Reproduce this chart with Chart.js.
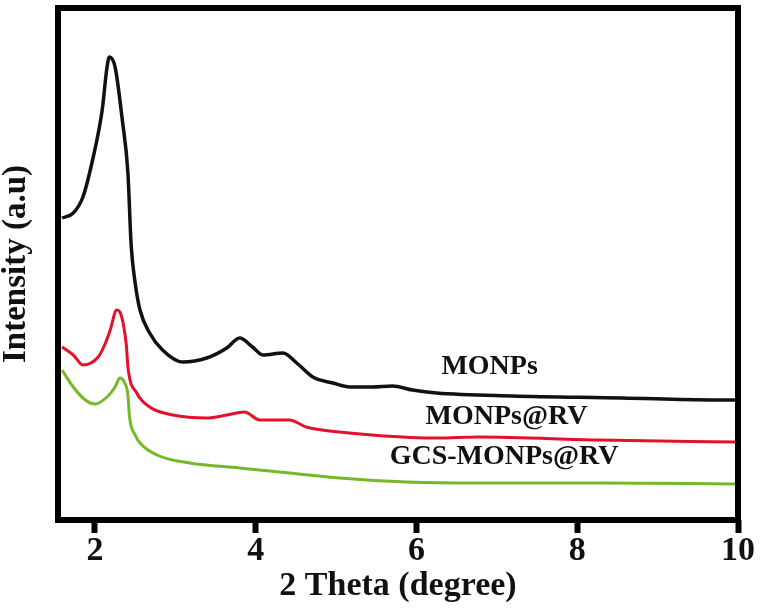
<!DOCTYPE html>
<html>
<head>
<meta charset="utf-8">
<script src="https://cdn.jsdelivr.net/npm/chart.js@4/dist/chart.umd.min.js"></script>
<style>
  html, body { margin: 0; padding: 0; background: #fff; }
  #wrap { width: 760px; height: 610px; }
</style>
</head>
<body>
<div id="wrap"><canvas id="xrd" width="760" height="610"></canvas></div>
<script>
// 2 theta positions (degree) and intensities (a.u.)
const thetaMONPs = [1.59, 1.73, 1.85, 1.97, 2.09, 2.15, 2.18, 2.25, 2.34, 2.41, 2.45, 2.50, 2.56, 2.68, 2.84, 3.09, 3.39, 3.64, 3.80, 3.96, 4.09, 4.34, 4.51, 4.71, 4.96, 5.17, 5.45, 5.70, 5.95, 6.25, 7.19, 8.56, 9.68, 9.97];
const intMONPs   = [302, 307, 323, 360, 410, 453, 463, 453, 400, 347, 275, 237, 210, 187, 170, 158, 162, 172, 182, 173, 165, 167, 157, 143, 137, 133, 133, 134, 130, 127, 124, 122, 120, 120];

const thetaRV = [1.59, 1.73, 1.85, 2.04, 2.12, 2.19, 2.27, 2.31, 2.35, 2.39, 2.41, 2.52, 2.68, 2.97, 3.39, 3.64, 3.86, 4.05, 4.42, 4.63, 5.04, 5.45, 6.25, 6.78, 8.27, 9.97];
const intRV   = [173, 165, 155, 163, 175, 190, 210, 208, 197, 175, 153, 127, 113, 105, 102, 105, 108, 100, 100, 93, 88, 85, 82, 83, 80, 78];

const thetaGCS = [1.59, 1.73, 1.88, 2.00, 2.15, 2.25, 2.31, 2.37, 2.41, 2.43, 2.50, 2.56, 2.77, 3.18, 3.80, 4.42, 5.04, 5.88, 6.78, 8.27, 9.97];
const intGCS   = [150, 133, 120, 116, 123, 133, 142, 137, 125, 103, 85, 77, 65, 57, 52, 47, 42, 38, 37, 37, 36];

const seriesNames = ['MONPs', 'MONPs@RV', 'GCS-MONPs@RV'];
const xTicks = [2, 4, 6, 8, 10];

// where the series names sit, in data units
const labelTheta = [6.91, 7.12, 7.09];
const labelInt   = [153, 103, 63];

function pts(xs, ys) {
  return xs.map((x, i) => ({ x: x, y: ys[i] }));
}

const serif = '"Liberation Serif", "Times New Roman", serif';

// box around the plot + series names
const framePlugin = {
  id: 'frame',
  afterDatasetsDraw(chart) {
    const { ctx, chartArea: a, scales } = chart;
    ctx.save();
    ctx.strokeStyle = '#000';
    ctx.lineWidth = 6;
    ctx.strokeRect(a.left, a.top, a.right - a.left, a.bottom - a.top);
    ctx.fillStyle = '#111';
    ctx.font = 'bold 28px ' + serif;
    ctx.textAlign = 'center';
    ctx.textBaseline = 'middle';
    seriesNames.forEach((name, i) => {
      ctx.fillText(name, scales.x.getPixelForValue(labelTheta[i]), scales.y.getPixelForValue(labelInt[i]));
    });
    ctx.restore();
  }
};

const line = (data, color, w) => ({
  data: data,
  borderColor: color,
  borderWidth: w,
  pointRadius: 0,
  fill: false,
  cubicInterpolationMode: 'monotone'
});

new Chart(document.getElementById('xrd'), {
  type: 'line',
  data: {
    datasets: [
      line(pts(thetaMONPs, intMONPs), '#111111', 3.5),
      line(pts(thetaRV, intRV), '#e3112b', 3),
      line(pts(thetaGCS, intGCS), '#76b82a', 3)
    ]
  },
  options: {
    responsive: false,
    animation: false,
    layout: { padding: { top: 8, right: 22, left: 0, bottom: 0 } },
    plugins: { legend: { display: false }, tooltip: { enabled: false } },
    scales: {
      x: {
        type: 'linear',
        min: 1.54,
        max: 10,
        afterFit: s => { s.height = 90; },
        afterBuildTicks: s => { s.ticks = xTicks.map(v => ({ value: v })); },
        ticks: {
          includeBounds: false,
          color: '#111',
          padding: 1,
          maxRotation: 0,
          font: { family: serif, size: 34, weight: 'bold', lineHeight: 1 }
        },
        grid: {
          drawOnChartArea: false,
          drawTicks: true,
          tickLength: 13,
          tickWidth: 6,
          tickColor: '#000'
        },
        border: { display: false },
        title: {
          display: true,
          text: '2 Theta (degree)',
          color: '#111',
          font: { family: serif, size: 34, weight: 'bold' },
          padding: { top: 0, bottom: 3 }
        }
      },
      y: {
        min: 0,
        max: 512,
        afterFit: s => { s.width = 58; },
        ticks: { display: false },
        grid: { display: false, drawTicks: false },
        border: { display: false },
        title: {
          display: true,
          text: 'Intensity (a.u)',
          color: '#111',
          font: { family: serif, size: 33, weight: 'bold', lineHeight: 1 },
          padding: { top: 0, bottom: 0 }
        }
      }
    }
  },
  plugins: [framePlugin]
});
</script>
</body>
</html>
